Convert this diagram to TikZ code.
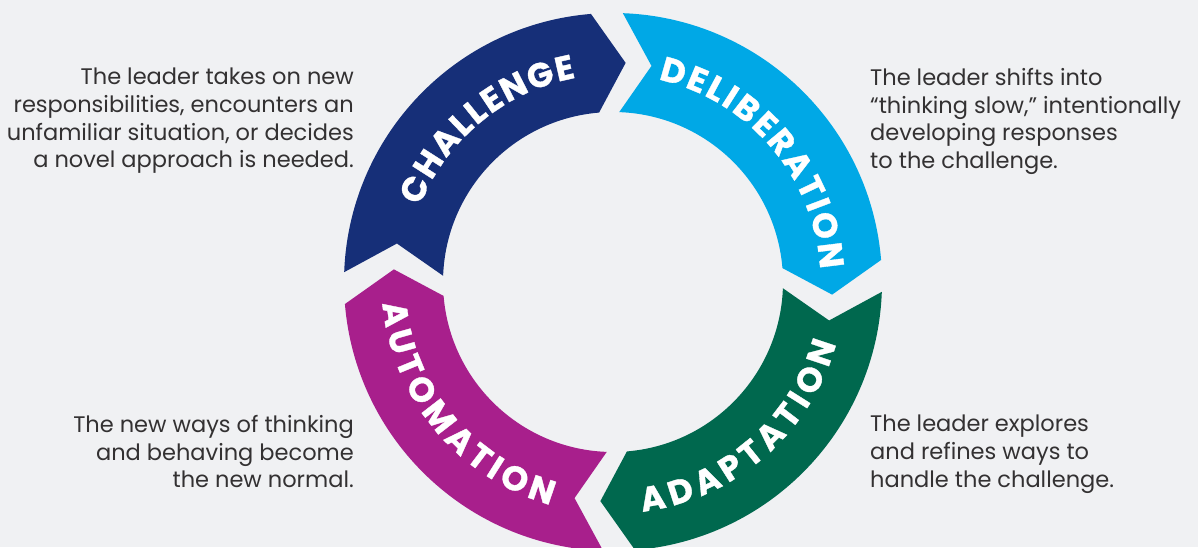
\documentclass[tikz,border=0pt]{standalone}
\usepackage{fontspec}
\setmainfont{Poppins}
\usetikzlibrary{decorations.text}
\definecolor{cyclenavy}{RGB}{22,47,120}
\definecolor{cyclesky}{RGB}{0,168,230}
\definecolor{cyclegreen}{RGB}{0,104,78}
\definecolor{cyclemagenta}{RGB}{168,31,140}
\definecolor{cyclebg}{RGB}{240,241,243}
\definecolor{cycletext}{RGB}{51,49,50}

% ring radii (outer, middle, inner) and depth of head/notch in degrees
\def\rout{269}
\def\rmid{219.5}
\def\rin{170}
\def\tipdeg{8}

\newcommand{\notefont}{\fontsize{22.5}{27.7}\selectfont}
\newcommand{\bandfont}{\fontsize{34}{34}\selectfont\bfseries\addfontfeature{FakeBold=1}}

% one arrow of the ring: colour, tail angle, head angle (clockwise)
\newcommand{\ringband}[3]{%
  \fill[#1] (#2:\rout) arc[start angle=#2, end angle=#3, radius=\rout pt]
    -- ({#3-\tipdeg}:\rmid) -- (#3:\rin)
    arc[start angle=#3, end angle=#2, radius=\rin pt]
    -- ({#2-\tipdeg}:\rmid) -- cycle;}

% word set along an arc: text, baseline radius, from, to
\newcommand{\ringlabel}[4]{%
  \path[decorate, decoration={text along path, text={|\bandfont|#1},
      text color=white, text align={fit to path}}]
    (#3:#2) arc[start angle=#3, end angle=#4, radius=#2 pt];}

\tikzset{
  leftnote/.style={anchor=north east, align=right, inner sep=0pt,
    font=\notefont, text=cycletext},
  rightnote/.style={anchor=north west, align=left, inner sep=0pt,
    font=\notefont, text=cycletext}
}

\begin{document}
\begin{tikzpicture}[x=1pt, y=1pt]
  \useasboundingbox (0,0) rectangle (1198,547);
  \fill[cyclebg] (0,0) rectangle (1198,547);
  \clip (0,0) rectangle (1198,547);

  % the ring
  \begin{scope}[shift={(613,265)}]
    \ringband{cyclenavy}{177.9}{94.7}
    \ringband{cyclesky}{87.9}{4.7}
    \ringband{cyclegreen}{-2.1}{-85.3}
    \ringband{cyclemagenta}{-92.1}{-175.3}

    \ringlabel{CHALLENGE}{207.5}{158.5}{100.3}
    \ringlabel{DELIBERATION}{207.5}{77.4}{3.5}
    \ringlabel{ADAPTATION}{231.5}{-82.7}{-15.5}
    \ringlabel{AUTOMATION}{231.5}{185.3}{254.3}
  \end{scope}

  % notes beside each stage
  \node[leftnote] (challengenote) at (354,479)
    {The leader takes on new\\responsibilities, encounters an\\unfamiliar situation, or decides\\a novel approach is needed.};
  \node[rightnote] (deliberationnote) at (870,479)
    {The leader shifts into\\“thinking slow,” intentionally\\developing responses\\to the challenge.};
  \node[rightnote] (adaptationnote) at (870,132)
    {The leader explores\\and refines ways to\\handle the challenge.};
  \node[leftnote] (automationnote) at (354,132)
    {The new ways of thinking\\and behaving become\\the new normal.};
\end{tikzpicture}
\end{document}
